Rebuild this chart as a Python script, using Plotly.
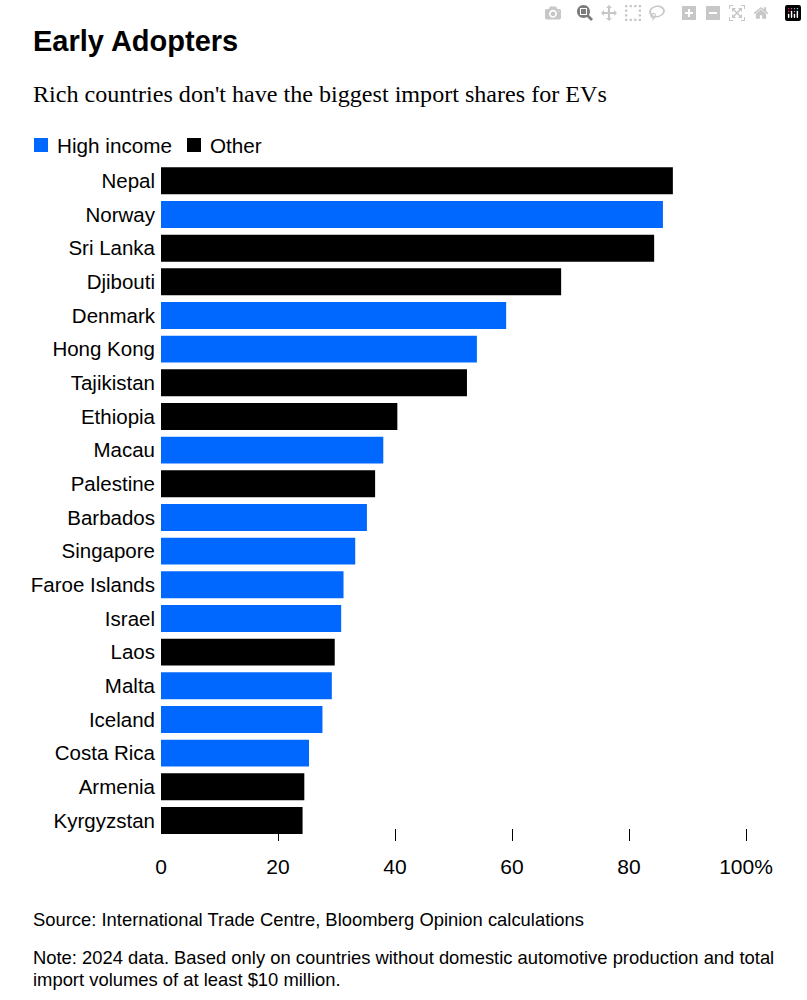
import plotly.graph_objects as go

countries = ['Nepal', 'Norway', 'Sri Lanka', 'Djibouti', 'Denmark', 'Hong Kong', 'Tajikistan',
             'Ethiopia', 'Macau', 'Palestine', 'Barbados', 'Singapore', 'Faroe Islands', 'Israel',
             'Laos', 'Malta', 'Iceland', 'Costa Rica', 'Armenia', 'Kyrgyzstan']
shares = [87.5, 85.8, 84.3, 68.4, 59.0, 54.0, 52.3,
          40.4, 38.0, 36.6, 35.2, 33.2, 31.2, 30.8,
          29.7, 29.2, 27.6, 25.3, 24.5, 24.2]
groups = ['Other', 'High income', 'Other', 'Other', 'High income', 'High income', 'Other',
          'Other', 'High income', 'Other', 'High income', 'High income', 'High income', 'High income',
          'Other', 'High income', 'High income', 'High income', 'Other', 'Other']
tick_vals = [0, 20, 40, 60, 80, 100]
tick_text = ['0', '20', '40', '60', '80', '100%']

W, H = 807, 1000
L, R, T, B = 161, 61, 164, 159
SANS = 'Liberation Sans'
SERIF = 'Liberation Serif'
colors = {'High income': '#0068ff', 'Other': '#000000'}


def px(x):
    return (x - L) / (W - L - R)


def py(y):
    return (H - B - y) / (H - T - B)


fig = go.Figure()
for group in ['High income', 'Other']:
    idx = [i for i, g in enumerate(groups) if g == group]
    fig.add_trace(go.Bar(
        x=[shares[i] for i in idx],
        y=[countries[i] for i in idx],
        orientation='h',
        name=group,
        width=0.8,
        marker=dict(color=colors[group], line=dict(width=0)),
    ))

# text outside the plot area, placed by pixel position
texts = [
    ('<b>Early Adopters</b>', 31, 41, 29, SANS),
    ("Rich countries don't have the biggest import shares for EVs", 31, 94, 24.1, SERIF),
    ('High income', 55, 145, 20.7, SANS),
    ('Other', 208, 145, 20.7, SANS),
    ('Source: International Trade Centre, Bloomberg Opinion calculations', 31, 919, 18.4, SANS),
    ('Note: 2024 data. Based only on countries without domestic automotive production and total', 31, 958, 18.4, SANS),
    ('import volumes of at least $10 million.', 31, 979, 18.4, SANS),
]
for text, x, y, size, family in texts:
    fig.add_annotation(
        text=text, x=px(x), y=py(y), xref='paper', yref='paper',
        xanchor='left', yanchor='middle', showarrow=False,
        font=dict(family=family, size=size, color='#000000'),
    )

# legend swatches
for group, x0 in [('High income', 34), ('Other', 187)]:
    fig.add_shape(
        type='rect', xref='paper', yref='paper',
        x0=px(x0), x1=px(x0 + 14), y0=py(138), y1=py(152),
        fillcolor=colors[group], line=dict(width=0),
    )

fig.update_layout(
    width=W,
    height=H,
    margin=dict(l=L, r=R, t=T, b=B, pad=0),
    barmode='overlay',
    showlegend=False,
    paper_bgcolor='white',
    plot_bgcolor='white',
    font=dict(family=SANS, size=20.5, color='#000000'),
    xaxis=dict(
        range=[0, 100], tickmode='array', tickvals=tick_vals, ticktext=tick_text,
        ticks='', showgrid=False, zeroline=False, showline=False,
        ticklabelstandoff=11, layer='below traces', tickfont=dict(size=21),
        minor=dict(tickmode='array', tickvals=tick_vals[1:], ticks='inside', ticklen=12,
                   tickwidth=1, tickcolor='#000000', showgrid=False),
    ),
    yaxis=dict(
        categoryorder='array', categoryarray=countries,
        range=[19.61, -0.5], ticks='', showgrid=False, zeroline=False, showline=False,
        ticklabelstandoff=5,
    ),
)

fig.write_html("out.html", post_script="document.body.style.margin = '0';")
